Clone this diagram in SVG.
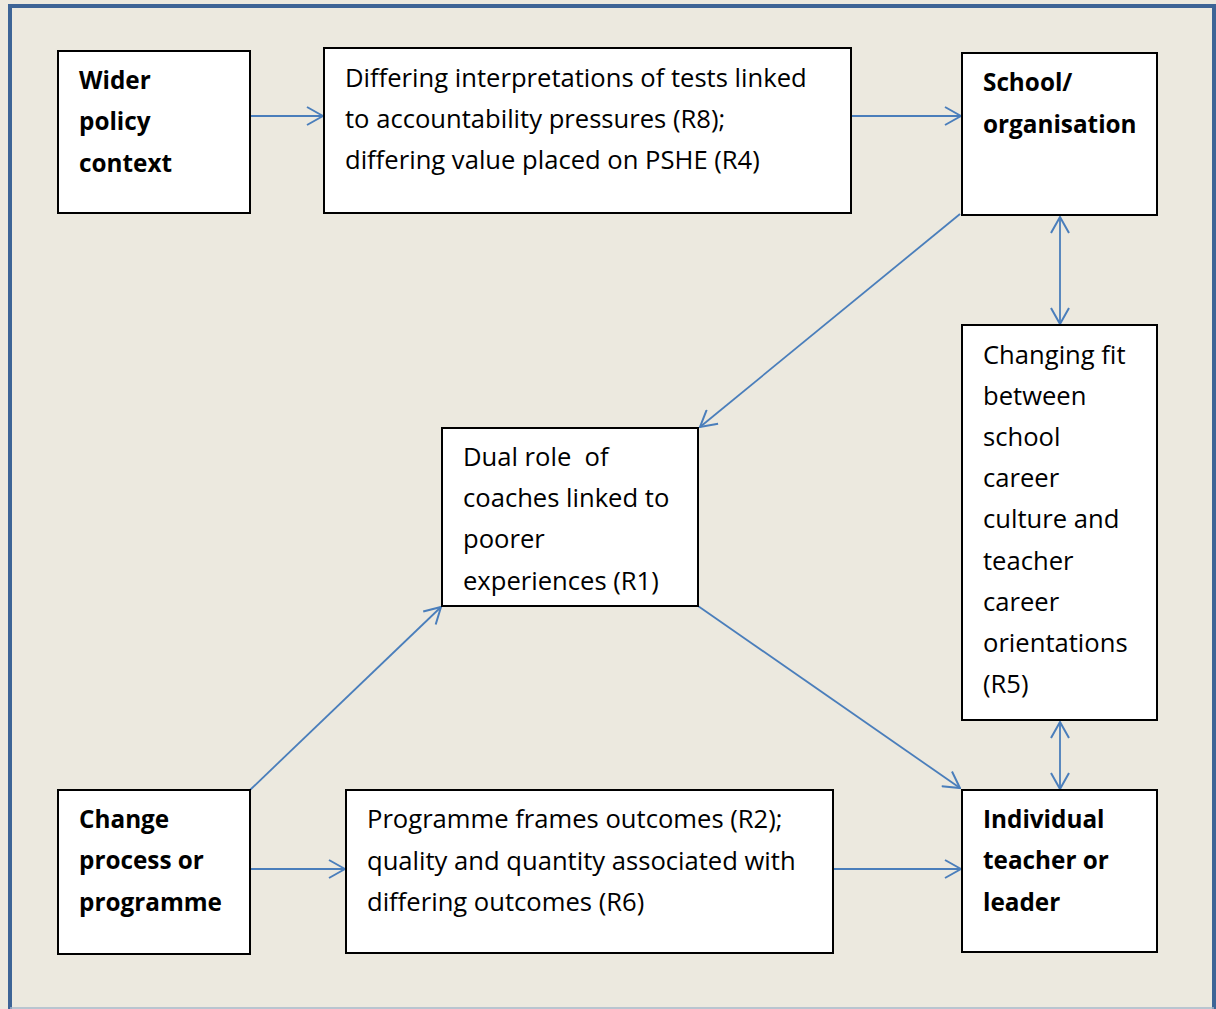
<svg xmlns="http://www.w3.org/2000/svg" width="1216" height="1009" viewBox="0 0 1216 1009">
<defs>
<marker id="ah" viewBox="0 0 18 20" refX="17" refY="10" markerWidth="18" markerHeight="20" markerUnits="userSpaceOnUse" orient="auto-start-reverse">
<path d="M1,1 L17,10 L1,19" fill="none" stroke="#4A7EBB" stroke-width="2"/>
</marker>
</defs>
<style>
.box{fill:#FFFFFF;stroke:#000000;stroke-width:2}
.t{font-family:"Open Sans","Noto Sans","Liberation Sans",sans-serif;font-size:25.6px;fill:#000000}
.b{font-weight:bold;font-size:24.3px}
.c{stroke:#4A7EBB;stroke-width:1.8;fill:none}
</style>
<rect x="0" y="0" width="1216" height="1009" fill="#ECE9DF"/>
<path d="M10,1009 L10,6 L1214,6 L1214,1009" fill="none" stroke="#3D6496" stroke-width="4"/>
<line x1="10" y1="1008" x2="1214" y2="1008" stroke="#A9B8CB" stroke-width="1.5"/>

<g id="connectors">
<line class="c" x1="250" y1="116" x2="323" y2="116" marker-end="url(#ah)"/>
<line class="c" x1="851" y1="116" x2="961" y2="116" marker-end="url(#ah)"/>
<line class="c" x1="960" y1="214" x2="700" y2="427" marker-end="url(#ah)"/>
<line class="c" x1="1060" y1="217" x2="1060" y2="324" marker-start="url(#ah)" marker-end="url(#ah)"/>
<line class="c" x1="1060" y1="722" x2="1060" y2="789" marker-start="url(#ah)" marker-end="url(#ah)"/>
<line class="c" x1="250" y1="790" x2="441" y2="607" marker-end="url(#ah)"/>
<line class="c" x1="698" y1="606" x2="960" y2="788" marker-end="url(#ah)"/>
<line class="c" x1="250" y1="869" x2="345" y2="869" marker-end="url(#ah)"/>
<line class="c" x1="833" y1="869" x2="961" y2="869" marker-end="url(#ah)"/>
</g>

<g id="wider">
<rect class="box" x="58" y="51" width="192" height="162"/>
<text class="t b" x="79"><tspan x="79" y="89">Wider</tspan><tspan x="79" y="130">policy</tspan><tspan x="79" y="172">context</tspan></text>
</g>
<g id="differing">
<rect class="box" x="324" y="48" width="527" height="165"/>
<text class="t" x="345"><tspan x="345" y="87">Differing interpretations of tests linked</tspan><tspan x="345" y="128">to accountability pressures (R8);</tspan><tspan x="345" y="169">differing value placed on PSHE (R4)</tspan></text>
</g>
<g id="school">
<rect class="box" x="962" y="53" width="195" height="162"/>
<text class="t b" x="983"><tspan x="983" y="91">School/</tspan><tspan x="983" y="133">organisation</tspan></text>
</g>
<g id="changing">
<rect class="box" x="962" y="325" width="195" height="395"/>
<text class="t" x="983"><tspan x="983" y="364">Changing fit</tspan><tspan x="983" y="405">between</tspan><tspan x="983" y="446">school</tspan><tspan x="983" y="487">career</tspan><tspan x="983" y="528">culture and</tspan><tspan x="983" y="570">teacher</tspan><tspan x="983" y="611">career</tspan><tspan x="983" y="652">orientations</tspan><tspan x="983" y="693">(R5)</tspan></text>
</g>
<g id="dual">
<rect class="box" x="442" y="428" width="256" height="178"/>
<text class="t" x="463"><tspan x="463" y="466">Dual role &#160;of</tspan><tspan x="463" y="507">coaches linked to</tspan><tspan x="463" y="548">poorer</tspan><tspan x="463" y="590">experiences (R1)</tspan></text>
</g>
<g id="change">
<rect class="box" x="58" y="790" width="192" height="164"/>
<text class="t b" x="79"><tspan x="79" y="828">Change</tspan><tspan x="79" y="869">process or</tspan><tspan x="79" y="911">programme</tspan></text>
</g>
<g id="programme">
<rect class="box" x="346" y="790" width="487" height="163"/>
<text class="t" x="367"><tspan x="367" y="828">Programme frames outcomes (R2);</tspan><tspan x="367" y="870">quality and quantity associated with</tspan><tspan x="367" y="911">differing outcomes (R6)</tspan></text>
</g>
<g id="individual">
<rect class="box" x="962" y="790" width="195" height="162"/>
<text class="t b" x="983"><tspan x="983" y="828">Individual</tspan><tspan x="983" y="869">teacher or</tspan><tspan x="983" y="911">leader</tspan></text>
</g>
</svg>
